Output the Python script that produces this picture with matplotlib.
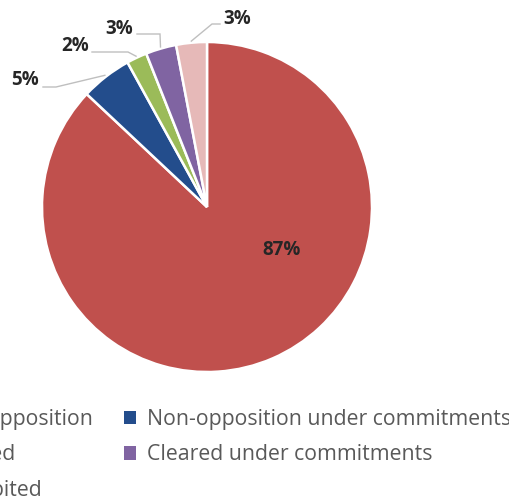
import matplotlib
matplotlib.use("Agg")
import matplotlib.pyplot as plt
import numpy as np

categories = ["Non-opposition", "Non-opposition under commitments", "Cleared",
              "Cleared under commitments", "Prohibited"]
values = [87, 5, 2, 3, 3]
labels = ["87%", "5%", "2%", "3%", "3%"]
colors = ["#C0504D", "#234D8C", "#9BBB59", "#8064A2", "#E6B9B8"]

plt.rcParams['font.family'] = ['Open Sans', 'DejaVu Sans']

W, H = 509, 499
fig = plt.figure(figsize=(W / 100, H / 100), dpi=100)
cx, cy, R = 207, 207, 165
ax = fig.add_axes([(cx - R) / W, (H - cy - R) / H, 2 * R / W, 2 * R / H])
wedges, _ = ax.pie(values, colors=colors, startangle=90, counterclock=False,
                   radius=1.0, wedgeprops=dict(edgecolor="white", linewidth=1.8))
ax.set_xlim(-1, 1)
ax.set_ylim(-1, 1)
ax.set_aspect("equal")
ax.axis("off")

def px2d(px, py):
    return ((px - cx) / R, (cy - py) / R)

# data labels (positions in pixels of the figure)
label_px = [(282, 250), (25, 80), (75, 46), (119, 29), (237, 19)]
line_start_px = [None, (43, 87), (92, 52), (137, 34), (220, 24)]
line_elbow_px = [None, (56, 87), (128, 52), (160, 34), (212, 24)]
for i, (w, lab) in enumerate(zip(wedges, labels)):
    tx, ty = px2d(*label_px[i])
    ax.text(tx, ty, lab, ha="center", va="center", fontsize=13.5,
            fontweight="bold", color="#262626", clip_on=False)
    if line_start_px[i] is not None:
        th = np.deg2rad((w.theta1 + w.theta2) / 2)
        ex, ey = np.cos(th) * 1.01, np.sin(th) * 1.01
        sx, sy = px2d(*line_start_px[i])
        bx, by = px2d(*line_elbow_px[i])
        ax.plot([sx, bx, ex], [sy, by, ey], color="#BFBFBF", lw=1.0,
                clip_on=False, solid_joinstyle="miter")

# legend: row-wise order -> column-wise for matplotlib
order = [0, 2, 4, 1, 3]
handles = [wedges[k] for k in order]
leg_labels = [categories[k] for k in order]
leg = fig.legend(handles, leg_labels, ncol=2, loc="upper left",
                 bbox_to_anchor=(0, 0.2), frameon=False, fontsize=15.3,
                 labelcolor="#595959", handlelength=0.57, handleheight=0.57,
                 handletextpad=0.5, columnspacing=1.4, labelspacing=0.68,
                 borderpad=0, borderaxespad=0)
for p in leg.get_patches():
    p.set_edgecolor("none")

fig.canvas.draw()
r = fig.canvas.get_renderer()
bb = leg.get_patches()[3].get_window_extent(r)
# target: blue marker left at x=124, top at y=411 (from top)
dx = 124 - bb.x0
dy = (H - 411) - bb.y1
lb = leg.get_window_extent(r)
leg.set_bbox_to_anchor(((lb.x0 + dx) / W, (lb.y1 + dy) / H), transform=fig.transFigure)

fig.savefig("out.png", dpi=100)
